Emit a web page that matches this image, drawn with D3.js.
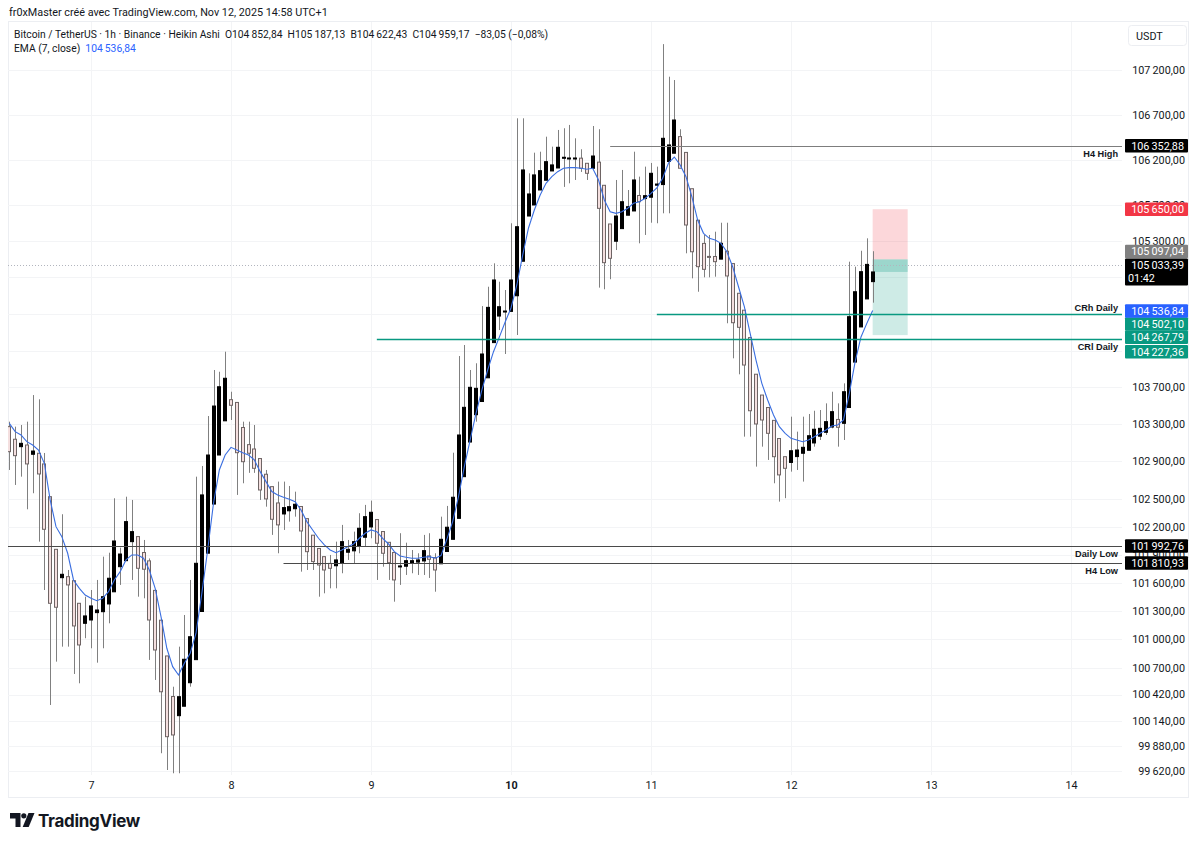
<!DOCTYPE html>
<html><head><meta charset="utf-8">
<script src="https://cdn.jsdelivr.net/npm/d3@7"></script>
<style>
body{margin:0;background:#fff;}
svg{display:block;font-family:Roboto,"Noto Sans",sans-serif;}
</style></head><body>
<svg id="c" width="1200" height="844"></svg>
<script>
// ---- DATA (Heikin Ashi 1h bars, first bar Nov 6 10:00) ----
const firstBar = Date.UTC(2025,10,6,10);
const open=[103274,103138,103058,103076,102976,102987,102872,102520,101957,101655,101666,101623,101383,101171,
101206,101284,101294,101376,101505,101772,101836,102039,102093,101923,101834,101520,101204,100826,100399,100198,100297,100544,100787,101296,101916,102441,102968,103337,
103566,103536,103265,103080,103033,102930,102761,102628,102453,102335,102369,102391,102415,102285,102108,101966,101879,101807,101782,101813,101926,101941,101991,102086,
102196,102275,102147,102032,101923,101772,101777,101806,101821,101833,101887,101869,101803,101934,102064,102288,102735,103108,103403,103546,103803,104186,104476,104523,
104527,104698,105077,105575,105697,105863,105971,106074,106107,106222,106213,106215,106216,106159,106104,106172,105915,105487,105297,105436,105584,105631,105802,105768,
105783,105916,105923,106179,106271,106456,106280,105877,105529,105273,105130,105129,105100,105187,105051,104725,104540,104241,103842,103616,103481,103342,103146,102950,
102888,102951,102987,103019,103098,103171,103213,103270,103352,103310,103481,103974,104357,104663.46,104852.84];
const high=[103328,103274,103292,103328,103616,103570,102990,102520,101957,102332,101737,101623,101383,101453,
101524,101631,101879,101921,102503,101975,102520,102485,102093,102057,101860,101520,101204,100826,100502,100924,101259,101631,102735,102850,103389,103888,103869,104087,
103652,103536,103328,103328,103292,102930,102807,102628,102682,102682,102635,102574,102415,102285,102108,101966,101879,101897,102039,102218,102057,102146,102343,102432,
102478,102275,102147,102032,101923,102129,102028,101950,101915,102111,102129,101915,102306,102421,102993,104040,104160,103888,103961,104585,104797,105054,104852,104761,
105495,106660,106660,106048,106277,106288,106455,106344,106530,106549,106586,106437,106315,106159,106574,106538,105915,105487,105974,106085,105863,106288,106011,106122,
106163,106122,107491,107125,107088,106538,106280,105877,105529,105366,105366,105402,105501,105501,105051,104725,104540,104241,103842,103616,103481,103342,103146,102950,
103382,103220,103382,103411,103446,103454,103526,103652,103526,103743,105072,105017,105192,105329,105187.13];
const low=[102807,102646,102735,102385,102557,102039,101524,100310,100766,100924,100924,100636,100538,101013,
100907,100755,100907,101171,101505,101578,101836,101631,101453,101436,100784,100573,99805,99630,99596,99596,100297,100502,100787,101296,101916,102441,102968,103337,
103346,102539,102664,102776,102776,102485,102413,102111,101915,102164,102253,102306,101719,101737,101737,101453,101489,101542,101542,101702,101844,101808,101915,101985,
102075,101631,101772,101631,101400,101578,101684,101702,101684,101684,101652,101506,101803,101934,102064,102288,102735,103108,103328,103546,103803,104186,104323,104062,
104527,104269,105077,105575,105697,105863,105971,106074,106107,105897,105937,105974,106063,105974,106104,104787,104769,104879,105200,105436,105584,105631,105274,105366,
105501,105495,105605,105605,106271,106104,105164,104889,104742,104900,104900,104907,105100,104397,104015,103841,103166,103166,102843,103058,102915,102664,102467,102504,
102789,102807,102682,103019,103058,103130,103184,103256,103058,103130,103481,103974,104357,104663.46,104622.43];
const close=[103004,102961,103094,102872,103011,102764,102171,101383,101341,101691,101578,101143,100942,101249,
101355,101312,101453,101649,102046,101907,102253,102146,101755,101745,101206,100889,100449,99978,99996,100397,100791,101029,101808,102539,102968,103497,103706,103798,
103505,102993,102896,102987,102825,102592,102496,102278,102218,102403,102413,102439,102153,101932,101826,101790,101737,101755,101844,102039,101957,102039,102182,102306,
102353,102022,101915,101815,101631,101780,101836,101836,101844,101943,101851,101737,102064,102193,102514,103184,103483,103700,103689,104062,104571,104871,104578,104531,
104871,105457,106085,105819,106030,106077,106177,106141,106337,106226,106218,106218,106104,106048,106240,105660,105061,105109,105575,105733,105678,105974,105733,105800,
106048,105929,106437,106363,106641,106104,105476,105181,105017,104988,105126,105072,105274,104915,104403,104353,103942,103446,103303,103346,103202,102950,102754,102825,
103014,103022,103051,103176,103246,103256,103328,103436,103267,103652,104469,104742,104962,105042.22,104959.17];
const ema=[103310,103220,103184,103112,103076,103022,102879,102485,102199,102092,101915,101631,101542,101471,
101436,101411,101436,101506,101631,101719,101844,101897,101897,101862,101737,101542,101241,100907,100713,100625,100749,100854,101066,101489,101950,102450,102807,102968,
103051,103022,102993,102968,102915,102789,102682,102575,102539,102514,102493,102467,102378,102253,102164,102075,102004,101950,101921,101950,101985,102014,102075,102129,
102164,102146,102075,102014,101932,101886,101872,101862,101862,101872,101879,101862,101890,102064,102253,102521,102843,103130,103418,103670,103888,104087,104246,104411,
104564,104816,105145,105443,105642,105808,105937,106011,106066,106104,106111,106111,106104,106093,106104,105974,105752,105623,105605,105623,105660,105716,105733,105771,
105826,105885,105993,106163,106229,106141,106011,105789,105531,105384,105329,105310,105274,105181,105017,104797,104578,104287,103996,103743,103562,103400,103274,103202,
103148,103130,103112,103130,103166,103202,103238,103281,103292,103346,103635,103978,104248,104396,104536.84];

const dayTicks=[7,8,9,10,11,12,13,14];
// grid levels of the price scale; the ones hidden behind the coloured price tags carry no text
const priceTicks=[107200,106700,106200,105700,105300,104900,104500,104100,103700,103300,102900,102500,102200,101900,101600,101300,101000,100700,100420,100140,99880,99620];
const priceTickText=[107200,106700,106200,105700,105300,103700,103300,102900,102500,102200,101900,101600,101300,101000,100700,100420,100140,99880,99620];

// horizontal drawings: name, price, start (hours since Nov 7 00:00), label side
const levelNames=["H4 High","CRh Daily","CRl Daily","Daily Low","H4 Low"];
const levelPrices=[106352.88,104502.10,104227.36,101992.76,101810.93];
const levelStartHour=[89,97,49,-16,33];
const levelKind=["gray","teal","teal","dark","dark"];
const levelLabelSide=["below","above","below","below","below"];

// short position tool
const posStop=105650.00, posEntry=105097.04, posTarget=104267.79;
const posStartHour=134, posEndHour=140;
const lastPrice=105033.39, countdown="01:42";

// ---- LAYOUT ----
const plot={l:8,r:1122,t:22,b:775};
const HOUR=3600e3, day7=Date.UTC(2025,10,7);
const svg=d3.select("#c");
const x=d3.scaleUtc().domain([new Date(day7-14.229*HOUR),new Date(day7+176.743*HOUR)]).range([plot.l,plot.r]);
const y=d3.scaleLog().domain([99578,107740]).range([plot.b,plot.t]);
const hx=h=>x(new Date(day7+h*HOUR));
const times=open.map((_,i)=>new Date(firstBar+i*HOUR));

const fmt=v=>{const s=Math.abs(v).toFixed(2).split(".");return (v<0?"\u2212":"")+s[0].replace(/\B(?=(\d{3})+(?!\d))/g,"\u2009")+","+s[1];};

// frame
svg.append("rect").attr("x",8.5).attr("y",21.5).attr("width",1180).attr("height",776).attr("fill","none").attr("stroke","#eceef2");

svg.append("defs").append("clipPath").attr("id","pc").append("rect")
 .attr("x",plot.l).attr("y",plot.t).attr("width",plot.r-plot.l).attr("height",plot.b-plot.t);

// grid
const grid=svg.append("g").attr("stroke","#f3f4f6").attr("stroke-width",1);
grid.selectAll(".h").data(priceTicks).join("line").attr("x1",plot.l).attr("x2",plot.r)
 .attr("y1",d=>Math.round(y(d))+0.5).attr("y2",d=>Math.round(y(d))+0.5);
grid.selectAll(".v").data(dayTicks).join("line").attr("y1",plot.t).attr("y2",plot.b)
 .attr("x1",d=>Math.round(x(new Date(Date.UTC(2025,10,d))))+0.5).attr("x2",d=>Math.round(x(new Date(Date.UTC(2025,10,d))))+0.5);

const P=svg.append("g").attr("clip-path","url(#pc)");

// position tool
const px0=hx(posStartHour), px1=hx(posEndHour);
P.append("rect").attr("x",px0).attr("width",px1-px0).attr("y",y(posStop)).attr("height",y(posEntry)-y(posStop)).attr("fill","rgba(242,54,69,0.2)");
P.append("rect").attr("x",px0).attr("width",px1-px0).attr("y",y(posEntry)).attr("height",y(posTarget)-y(posEntry)).attr("fill","rgba(8,153,129,0.2)");
P.append("rect").attr("x",px0).attr("width",px1-px0).attr("y",y(posEntry)).attr("height",y(close[close.length-1])-y(posEntry)).attr("fill","rgba(8,153,129,0.25)");

// current price dotted line
P.append("line").attr("x1",plot.l).attr("x2",plot.r).attr("y1",Math.round(y(lastPrice))+0.5).attr("y2",Math.round(y(lastPrice))+0.5)
 .attr("stroke","#b2b5be").attr("stroke-dasharray","1,2");

// candles
const cg=P.append("g");
const bw=4;
times.forEach((t,i)=>{
  const cx=Math.round(x(t));
  const up=close[i]>=open[i];
  cg.append("line").attr("x1",cx+0.5).attr("x2",cx+0.5).attr("y1",y(high[i])).attr("y2",y(low[i])).attr("stroke","#808080").attr("stroke-width",1);
  const top=y(Math.max(open[i],close[i])), bot=y(Math.min(open[i],close[i]));
  const h=Math.max(1,bot-top);
  cg.append("rect").attr("x",cx-1.5).attr("width",bw-1).attr("y",top).attr("height",h)
    .attr("fill",up?"#000":"#f4dfdf").attr("stroke",up?"#000":"#6e6464").attr("stroke-width",1);
});

// EMA
P.append("path").datum(ema).attr("fill","none").attr("stroke","#3a6ee0").attr("stroke-width",1.1)
 .attr("d",d3.line().x((d,i)=>x(times[i])).y(d=>y(d)));

// levels
const colors={gray:"#7d7d7d",teal:"#089981",dark:"#4a4a4a"};
levelPrices.forEach((p,i)=>{
  const yy=Math.round(y(p))+0.5;
  P.append("line").attr("x1",Math.max(plot.l,hx(levelStartHour[i]))).attr("x2",plot.r).attr("y1",yy).attr("y2",yy)
   .attr("stroke",colors[levelKind[i]]).attr("stroke-width",levelKind[i]==="teal"?1.6:1);
  svg.append("text").attr("x",1118).attr("y",yy+(levelLabelSide[i]==="below"?10.5:-4)).attr("text-anchor","end")
   .attr("font-size",9.2).attr("font-weight",700).attr("fill","#131722").attr("font-family","Liberation Sans,Arial,sans-serif").text(levelNames[i]);
});

// price axis ticks
const ya=svg.append("g").attr("transform","translate(1185,0)")
 .call(d3.axisLeft(y).tickValues(priceTickText).tickFormat(fmt).tickSize(0).tickPadding(0));
ya.select(".domain").remove();
ya.selectAll("text").attr("font-size",10.8).attr("fill","#131722").attr("font-family","Roboto,sans-serif");

// time axis
const xa=svg.append("g").attr("transform","translate(0,781)")
 .call(d3.axisBottom(x).tickValues(dayTicks.map(d=>new Date(Date.UTC(2025,10,d)))).tickFormat(d=>d.getUTCDate()).tickSize(0).tickPadding(0));
xa.select(".domain").remove();
xa.selectAll("text").attr("font-size",10.8).attr("fill","#131722").attr("font-family","Roboto,sans-serif")
  .attr("font-weight",d=>d.getUTCDate()===10?700:400);

// price tags on the axis
function plabel(value,color,dy,extra){
  const yc=y(value)+dy, hh=extra?27:13.5;
  svg.append("rect").attr("x",1125).attr("y",yc-6.75).attr("width",63).attr("height",hh).attr("fill",color).attr("rx",1);
  svg.append("text").attr("x",1184).attr("y",yc+3.8).attr("text-anchor","end").attr("font-size",10.8).attr("fill","#fff").text(fmt(value));
  if(extra) svg.append("text").attr("x",1128).attr("y",yc+16.5).attr("font-size",10.8).attr("fill","#fff").text(extra);
}
plabel(levelPrices[0],"#000",0);
plabel(posStop,"#f23645",0);
plabel(posEntry,"#808080",-8);
plabel(levelPrices[1],"#089981",10.4);
plabel(posTarget,"#089981",2.2);
plabel(levelPrices[2],"#089981",12.9);
plabel(ema[ema.length-1],"#2962ff",0.5);
plabel(lastPrice,"#000",0,countdown);
plabel(levelPrices[3],"#000",0);
plabel(levelPrices[4],"#000",0);

// USDT
svg.append("rect").attr("x",1128.5).attr("y",25.5).attr("width",58).attr("height",20).attr("rx",3).attr("fill","#fff").attr("stroke","#eceef2");
svg.append("text").attr("x",1136).attr("y",39.5).attr("font-size",10.8).attr("fill","#131722").text("USDT");

// header texts
svg.append("text").attr("x",9).attr("y",15.5).attr("font-size",10.8).attr("fill","#131722").text("fr0xMaster créé avec TradingView.com, Nov 12, 2025 14:58 UTC+1");
const L=open.length-1;
const chg=close[L]-close[L-1], chgPct=chg/close[L-1]*100;
svg.append("text").attr("x",14).attr("y",38).attr("font-size",10.3).attr("fill","#131722").attr("xml:space","preserve")
 .text(`Bitcoin / TetherUS · 1h · Binance · Heikin Ashi  O${fmt(open[L])}  H${fmt(high[L])}  B${fmt(low[L])}  C${fmt(close[L])}  ${fmt(chg)} (${fmt(chgPct)}%)`);
const em=svg.append("text").attr("x",14).attr("y",52).attr("font-size",10.3).attr("fill","#131722").attr("xml:space","preserve");
em.append("tspan").text("EMA (7, close)  ");
em.append("tspan").attr("fill","#2962ff").text(fmt(ema[L]));

// TradingView logo
const lg=svg.append("g").attr("fill","#131722");
lg.append("path").attr("d","M10 813h10.5v14h-5v-8.5H10z");
lg.append("circle").attr("cx",23.8).attr("cy",815.8).attr("r",2.6);
lg.append("path").attr("d","M28.5 813h6l-5.8 14h-6z");
svg.append("text").attr("x",38).attr("y",826.5).attr("font-size",17).attr("font-weight",700).attr("fill","#131722").attr("font-family","Inter,Roboto,sans-serif").attr("letter-spacing","-0.3").text("TradingView");
</script>
</body></html>
